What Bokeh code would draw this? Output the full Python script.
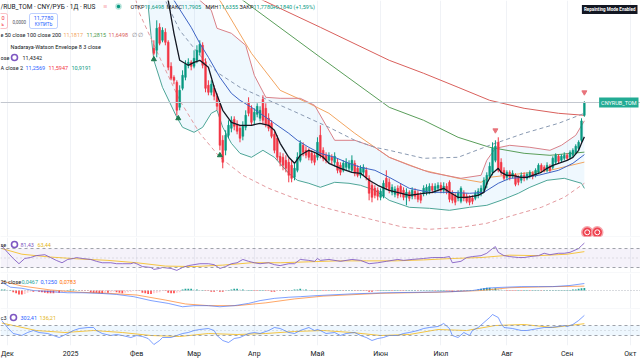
from bokeh.plotting import figure
from bokeh.models import Range1d, FixedTicker, Span, Label, BoxAnnotation
from bokeh.layouts import column
from bokeh.embed import file_html
from bokeh.resources import INLINE

# ---------------- data ----------------
month_idx = [0, 22, 45, 65, 86, 108, 130, 151, 174, 195, 217]
month_lbl = ["Дек", "2025", "Фев", "Мар", "Апр", "Май", "Июн", "Июл", "Авг", "Сен", "Окт"]

candle_idx = list(range(51, 202))
opens = [12.32, 12.30, 12.53, 12.40, 12.48, 12.38, 12.14, 12.03, 11.98, 11.73,
         11.92, 12.03, 12.15, 12.18, 12.14, 12.20, 12.28, 12.35, 12.18, 11.95,
         11.88, 11.92, 11.84, 11.76, 11.40, 11.30, 11.45, 11.52, 11.61, 11.56,
         11.52, 11.44, 11.53, 11.78, 11.72, 11.60, 11.66, 11.62, 11.81, 11.72,
         11.62, 11.57, 11.46, 11.42, 11.24, 11.23, 11.20, 11.18, 11.15, 11.03,
         11.10, 11.20, 11.35, 11.30, 11.30, 11.27, 11.25, 11.23, 11.45, 11.30,
         11.25, 11.20, 11.23, 11.18, 11.18, 11.15, 11.10, 11.13, 11.12, 11.10,
         11.17, 11.12, 11.05, 11.08, 11.10, 11.02, 10.95, 10.92, 10.90, 10.83,
         10.84, 11.02, 10.98, 10.88, 10.86, 10.92, 10.94, 10.90, 10.83, 10.88,
         10.84, 10.89, 10.87, 10.85, 10.87, 10.88, 10.89, 10.94, 10.90, 10.92,
         10.95, 10.90, 10.94, 10.98, 10.87, 10.84, 10.82, 10.79, 10.87, 10.84,
         10.83, 10.82, 10.82, 10.85, 10.87, 10.90, 10.96, 11.04, 11.08, 11.20,
         11.38, 11.18, 11.10, 11.03, 11.08, 11.04, 11.05, 11.03, 11.00, 11.05,
         11.02, 11.04, 11.07, 11.05, 11.08, 11.15, 11.13, 11.10, 11.14, 11.13,
         11.18, 11.24, 11.20, 11.22, 11.25, 11.23, 11.25, 11.28, 11.32, 11.40,
         11.6498]
closes = [12.27, 12.52, 12.37, 12.50, 12.38, 12.13, 12.02, 12.00, 11.70, 11.90,
          12.05, 12.16, 12.18, 12.14, 12.22, 12.30, 12.36, 12.15, 11.92, 11.88,
          11.96, 11.84, 11.74, 11.35, 11.18, 11.45, 11.55, 11.60, 11.54, 11.49,
          11.42, 11.55, 11.65, 11.67, 11.58, 11.68, 11.74, 11.70, 11.60, 11.56,
          11.52, 11.44, 11.30, 11.23, 11.18, 11.15, 11.12, 11.05, 11.02, 11.12,
          11.23, 11.37, 11.28, 11.25, 11.23, 11.20, 11.18, 11.38, 11.25, 11.22,
          11.20, 11.25, 11.20, 11.24, 11.10, 11.08, 11.17, 11.18, 11.17, 11.20,
          11.07, 11.05, 11.12, 11.13, 11.03, 10.87, 10.83, 10.85, 10.84, 10.89,
          10.97, 10.93, 10.90, 10.93, 10.91, 10.85, 10.87, 10.83, 10.88, 10.82,
          10.90, 10.84, 10.81, 10.80, 10.92, 10.93, 10.94, 10.90, 10.94, 10.95,
          10.90, 10.94, 10.89, 10.81, 10.80, 10.78, 10.87, 10.92, 10.82, 10.79,
          10.78, 10.79, 10.87, 10.89, 10.92, 11.00, 11.05, 11.14, 11.32, 11.34,
          11.10, 11.08, 11.02, 11.08, 11.03, 11.07, 10.96, 10.98, 11.05, 11.02,
          11.06, 11.08, 11.04, 11.10, 11.15, 11.10, 11.10, 11.15, 11.10, 11.22,
          11.25, 11.19, 11.24, 11.25, 11.22, 11.28, 11.30, 11.34, 11.38, 11.594,
          11.778]
highs = [12.40, 12.60, 12.57, 12.53, 12.52, 12.40, 12.18, 12.05, 12.00, 11.95,
         12.10, 12.20, 12.22, 12.20, 12.30, 12.35, 12.40, 12.38, 12.22, 12.00,
         12.00, 11.95, 11.87, 11.78, 11.45, 11.50, 11.60, 11.64, 11.64, 11.60,
         11.55, 11.59, 11.70, 11.83, 11.75, 11.72, 11.77, 11.74, 11.85, 11.77,
         11.67, 11.60, 11.49, 11.45, 11.28, 11.27, 11.25, 11.22, 11.20, 11.17,
         11.28, 11.40, 11.38, 11.34, 11.32, 11.30, 11.28, 11.43, 11.55, 11.33,
         11.28, 11.28, 11.26, 11.28, 11.22, 11.18, 11.20, 11.22, 11.20, 11.25,
         11.20, 11.15, 11.15, 11.16, 11.13, 11.05, 10.98, 10.95, 10.93, 10.92,
         11.00, 11.10, 11.02, 10.96, 10.94, 10.95, 10.97, 10.93, 10.92, 10.90,
         10.93, 10.92, 10.90, 10.88, 10.95, 10.96, 10.97, 10.97, 10.97, 10.98,
         10.98, 10.98, 10.97, 11.00, 10.90, 10.87, 10.90, 10.94, 10.90, 10.87,
         10.85, 10.85, 10.90, 10.92, 10.95, 11.03, 11.08, 11.18, 11.38, 11.40,
         11.43, 11.22, 11.13, 11.10, 11.10, 11.10, 11.07, 11.05, 11.08, 11.08,
         11.08, 11.10, 11.09, 11.12, 11.17, 11.17, 11.15, 11.18, 11.16, 11.24,
         11.27, 11.26, 11.26, 11.28, 11.27, 11.30, 11.32, 11.36, 11.40, 11.62,
         11.7905]
lows = [12.25, 12.23, 12.35, 12.38, 12.35, 12.10, 12.00, 11.96, 11.65, 11.70,
        11.90, 12.00, 12.12, 12.10, 12.12, 12.17, 12.25, 12.12, 11.88, 11.85,
        11.85, 11.80, 11.70, 11.30, 11.12, 11.25, 11.42, 11.48, 11.50, 11.46,
        11.38, 11.40, 11.50, 11.64, 11.55, 11.56, 11.63, 11.59, 11.56, 11.53,
        11.49, 11.42, 11.27, 11.20, 11.14, 11.10, 11.08, 10.98, 10.98, 11.00,
        11.08, 11.18, 11.24, 11.22, 11.20, 11.17, 11.15, 11.20, 11.22, 11.19,
        11.17, 11.17, 11.16, 11.14, 11.07, 11.05, 11.08, 11.10, 11.09, 11.08,
        11.04, 11.03, 11.02, 11.05, 11.00, 10.80, 10.78, 10.82, 10.80, 10.80,
        10.82, 10.90, 10.87, 10.85, 10.83, 10.82, 10.83, 10.80, 10.75, 10.79,
        10.81, 10.81, 10.78, 10.77, 10.84, 10.85, 10.86, 10.87, 10.87, 10.89,
        10.87, 10.87, 10.86, 10.78, 10.77, 10.75, 10.79, 10.77, 10.79, 10.77,
        10.75, 10.76, 10.80, 10.82, 10.84, 10.88, 10.92, 11.02, 11.05, 11.18,
        11.08, 11.05, 11.00, 11.00, 11.00, 11.02, 10.94, 10.95, 10.97, 10.99,
        11.00, 11.02, 11.01, 11.03, 11.06, 11.08, 11.08, 11.08, 11.08, 11.11,
        11.16, 11.17, 11.18, 11.20, 11.20, 11.21, 11.23, 11.26, 11.30, 11.38,
        11.6355]
last_close = 11.778

ma_idx = [53, 56, 58, 60, 63, 65, 67, 70, 72, 75, 78, 81, 85, 88, 91, 93, 95, 98, 100, 102,
          105, 107, 110, 112, 116, 120, 123, 126, 129, 133, 140, 145, 148, 152, 154, 157, 160, 164, 166, 167,
          169, 171, 172, 174, 176, 179, 181, 183, 186, 188, 190, 193, 195, 197, 199, 200, 201]
ma_val = [12.95, 12.80, 12.47, 12.20, 12.15, 12.18, 12.20, 12.13, 11.93, 11.70,
          11.58, 11.55, 11.55, 11.57, 11.55, 11.50, 11.37, 11.23, 11.17, 11.25,
          11.30, 11.28, 11.23, 11.17, 11.12, 11.08, 11.07, 11.00, 10.95, 10.90,
          10.85, 10.87, 10.88, 10.92, 10.88, 10.83, 10.83, 10.85, 10.88, 10.97,
          11.07, 11.12, 11.08, 11.05, 11.05, 11.03, 11.03, 11.05, 11.08, 11.12,
          11.15, 11.18, 11.20, 11.23, 11.30, 11.37, 11.4342]

bb_mid_idx = [55, 58, 64, 67, 70, 74, 78, 81, 85, 88, 93, 98, 101, 105, 109, 114, 119, 123, 128, 133,
              140, 147, 154, 161, 166, 171, 175, 180, 185, 192, 197, 201]
bb_mid = [12.95, 12.80, 12.53, 12.37, 12.23, 12.03, 11.87, 11.80, 11.73, 11.67,
          11.57, 11.47, 11.40, 11.33, 11.27, 11.23, 11.17, 11.13, 11.10, 11.03,
          10.92, 10.88, 10.88, 10.87, 10.88, 10.97, 11.02, 11.03, 11.05, 11.10,
          11.17, 11.2569]
bb_up_idx = [49, 57, 64, 67, 71, 73, 78, 83, 86, 90, 95, 102, 107, 111, 114, 121, 128, 133, 140, 147,
             158, 165, 167, 170, 175, 182, 189, 193, 198, 201]
bb_up = [13.50, 13.15, 12.95, 12.80, 12.70, 12.52, 12.47, 12.35, 12.05, 11.83,
         11.82, 11.82, 11.75, 11.55, 11.40, 11.40, 11.33, 11.23, 11.15, 11.08,
         11.02, 11.05, 11.20, 11.32, 11.35, 11.33, 11.30, 11.35, 11.45, 11.5947]
bb_lo_idx = [49, 50, 51, 54, 59, 61, 65, 68, 71, 73, 75, 78, 81, 85, 89, 93, 98, 101, 105, 109,
             114, 119, 123, 128, 133, 140, 147, 154, 161, 167, 172, 178, 182, 188, 194, 200, 201]
bb_lo = [12.75, 12.45, 12.20, 11.93, 11.63, 11.53, 11.48, 11.53, 11.67, 11.70,
         11.53, 11.37, 11.27, 11.23, 11.30, 11.23, 11.07, 11.00, 10.97, 10.93,
         10.98, 10.97, 10.95, 10.90, 10.80, 10.73, 10.72, 10.70, 10.73, 10.75,
         10.80, 10.87, 10.93, 11.00, 11.02, 10.97, 10.9191]

ema50_idx = [62, 74, 85, 95, 105, 112, 121, 128, 133, 145, 157, 165, 168, 180, 189, 201]
ema50 = [13.10, 12.80, 12.27, 11.90, 11.77, 11.67, 11.47, 11.33, 11.23, 11.10,
         11.02, 10.98, 11.03, 11.07, 11.10, 11.1817]
ema100_idx = [70, 82, 109, 133, 145, 157, 168, 180, 189, 201]
ema100 = [13.10, 12.80, 12.23, 11.73, 11.60, 11.43, 11.33, 11.27, 11.25, 11.2815]
ema200_idx = [75, 89, 109, 133, 145, 157, 168, 180, 192, 201]
ema200 = [13.00, 12.80, 12.53, 12.20, 12.07, 11.93, 11.80, 11.72, 11.67, 11.6498]

nw_up_idx = [51, 55, 60, 67, 73, 81, 91, 99, 112, 121, 128, 133, 145, 157, 168, 180, 192, 201]
nw_up = [13.04, 12.80, 12.50, 12.25, 12.08, 11.93, 11.80, 11.70, 11.53, 11.40,
         11.33, 11.30, 11.22, 11.23, 11.35, 11.47, 11.57, 11.67]
nw_lo_idx = [44, 46, 53, 60, 67, 74, 82, 91, 100, 110, 121, 128, 138, 147, 158, 167, 175, 186, 194, 201]
nw_lo = [12.88, 12.67, 12.23, 11.80, 11.47, 11.23, 11.05, 10.92, 10.82, 10.73,
         10.65, 10.60, 10.53, 10.51, 10.53, 10.57, 10.64, 10.73, 10.83, 10.97]

buy_idx = [51, 59.5, 74]
buy_px = [12.21, 11.62, 11.25]
sell_idx = [170, 201]
sell_px = [11.50, 11.88]
dot_idx = [202, 205.5]
dot_px = [10.48, 10.48]

rsi_idx = [-2, 0, 2, 4, 6, 8, 10, 13, 15, 17, 19, 21, 23, 24, 26, 29, 31, 33, 36, 38,
           40, 43, 44, 45, 47, 50, 51, 53, 54, 57, 59, 61, 63, 65, 67, 70, 72, 74, 76, 78,
           80, 82, 84, 86, 88, 91, 93, 95, 98, 100, 102, 105, 107, 108, 109, 112, 116, 120, 123, 126,
           129, 132, 136, 138, 141, 145, 148, 152, 154, 155, 158, 160, 162, 165, 167, 169, 170, 171, 173, 175,
           178, 180, 182, 185, 187, 189, 192, 194, 196, 199, 200, 201]
rsi = [76, 62, 49, 38, 49, 51, 55, 57, 51, 45, 40, 47, 49, 51, 49, 47, 43, 40, 40, 38,
       38, 38, 40, 38, 32, 30, 26, 28, 30, 28, 24, 30, 34, 36, 38, 38, 36, 28, 32, 38,
       40, 47, 43, 40, 38, 40, 36, 34, 38, 38, 47, 45, 43, 49, 45, 47, 43, 47, 45, 38,
       40, 43, 47, 45, 47, 49, 51, 51, 53, 40, 43, 51, 53, 55, 60, 70, 74, 62, 55, 53,
       51, 51, 53, 55, 60, 57, 60, 60, 62, 70, 76, 81.43]
rsima_idx = [-2, 5, 15, 25, 35, 45, 55, 65, 75, 85, 95, 105, 115, 125, 135, 145, 155, 165, 175, 185, 195, 201]
rsima = [70, 58, 52, 48, 45, 40, 33, 32, 35, 40, 40, 42, 44, 44, 44, 46, 49, 51, 56, 55, 58, 63.44]

macd_idx = [-2, 1, 5, 9, 15, 21, 26, 32, 38, 44, 50, 56, 61, 65, 70, 74, 79, 84, 88, 93,
            98, 102, 108, 120, 132, 145, 155, 162, 167, 169, 174, 179, 185, 190, 196, 201]
macd = [0.15, 0.06, 0.04, 0.0, -0.02, -0.04, -0.04, -0.05, -0.07, -0.11,
        -0.18, -0.23, -0.29, -0.27, -0.27, -0.29, -0.27, -0.23, -0.18, -0.14,
        -0.12, -0.11, -0.09, -0.06, -0.04, -0.03, -0.02, 0.0, 0.04, 0.05,
        0.06, 0.07, 0.07, 0.07, 0.09, 0.125]
signal_idx = [-2, 5, 15, 25, 35, 45, 55, 62, 70, 80, 90, 100, 110, 130, 150, 165, 175, 190, 201]
signal = [0.17, 0.08, 0.01, -0.03, -0.05, -0.08, -0.17, -0.24, -0.27, -0.27,
          -0.22, -0.15, -0.10, -0.05, -0.03, 0.0, 0.05, 0.07, 0.078]
hist_first_idx = -2
hist = [0.02, 0.02, 0.01, 0.01,
        -0.03, -0.05, -0.07, -0.07, -0.06, -0.04,
        -0.02, -0.02, -0.01, -0.02,
        -0.03, -0.04, -0.05, -0.05, -0.05, -0.04, -0.04, -0.03, -0.02,
        0.01, 0.02, 0.02, 0.01, 0.01,
        -0.01, -0.01, -0.01,
        -0.03, -0.04, -0.04, -0.05, -0.05, -0.04, -0.04, -0.03,
        -0.02, -0.03, -0.04, -0.05, -0.04, -0.03, -0.02,
        -0.01, -0.01, -0.01,
        -0.04, -0.05, -0.06, -0.06, -0.05, -0.04, -0.03,
        -0.01, -0.01,
        -0.04, -0.05, -0.05, -0.04, -0.03,
        0.02, 0.03, 0.03, 0.03, 0.02, 0.02, 0.01, 0.01,
        -0.01, -0.01, -0.02, -0.02, -0.01, -0.02, -0.02, -0.01,
        0.01, 0.02, 0.03, 0.03, 0.02, 0.02, 0.01, 0.01,
        0.01, -0.01, -0.01, 0.01, 0.01, -0.01, -0.01, -0.02, -0.02, -0.01, -0.01, 0.01, 0.01, -0.01, 0.01,
        0.02, 0.02, 0.03, 0.02, 0.02, 0.01, 0.01,
        -0.01, 0.01, 0.01, -0.01, -0.01, 0.01, -0.01, -0.01, 0.01, 0.01, -0.01, 0.01, 0.01, 0.01,
        -0.01, -0.01, 0.01, -0.01, -0.01, -0.02, -0.02, -0.01, -0.01, 0.01,
        0.01, 0.01, 0.01, -0.01, 0.01, 0.01, -0.01, -0.01, 0.01, 0.01, 0.01, 0.01, -0.01, 0.01, 0.01, 0.01, 0.01, 0.01, -0.01, 0.01,
        0.01, 0.01, -0.01, -0.01, -0.02, -0.01, -0.01, 0.01, -0.01, 0.01, 0.01, 0.01, 0.01, 0.02,
        0.03, 0.04, 0.05, 0.05, 0.04, 0.04, 0.03, 0.02,
        0.01, -0.01, -0.01, -0.01, -0.01, 0.01, -0.01, 0.01, 0.01, -0.01, 0.01, 0.01, 0.01, -0.01, 0.01, 0.01, 0.01, 0.01, 0.01, 0.01, 0.01, 0.01,
        0.01, 0.01, 0.02, 0.02, 0.03, 0.04, 0.0467]

cci_idx = [-2, 0, 2, 5, 7, 9, 11, 14, 16, 18, 21, 23, 25, 28, 30, 31, 33, 36, 38, 40,
           43, 45, 47, 49, 51, 53, 54, 57, 59, 61, 63, 65, 67, 70, 72, 73, 75, 77, 79, 81,
           84, 86, 88, 91, 93, 95, 98, 100, 102, 105, 107, 108, 109, 111, 114, 116, 118, 121, 123, 125,
           127, 129, 131, 133, 136, 138, 140, 143, 145, 147, 150, 152, 154, 155, 157, 159, 161, 162, 164, 166,
           168, 169, 171, 172, 173, 176, 179, 181, 185, 187, 189, 192, 194, 195, 197, 199, 201]
cci = [200, 60, -60, -100, -40, 0, -40, -60, -100, -140, -60, 0, 40, 60, 60, 0, -60, -100, -80, -100,
       -140, -100, -120, -160, -280, -200, -140, -140, -100, -60, -40, 0, 20, 40, 0, -100, -200, -240, -160, -140,
       -60, -40, -60, 0, 60, 40, -40, -60, 0, 60, 0, 20, 0, -60, -40, -100, -60, -40, -100, -140,
       -200, -160, -140, -100, -100, -60, -40, 0, 40, 60, 80, 140, 40, -100, -140, -40, -100, 0, 60, 160,
       260, 320, 260, 140, 60, 40, 0, 0, 40, 60, 60, 80, 100, 80, 120, 200, 302.41]
ccima_idx = [-2, 10, 20, 30, 40, 50, 60, 70, 80, 90, 100, 110, 120, 130, 140, 150, 160, 170, 180, 190, 201]
ccima = [150, 0, -40, 0, -40, -100, -120, -60, -80, -60, -20, 0, -40, -100, -80, 20, 0, 100, 120, 60, 136.21]

# ---------------- layout ----------------
FONT = "Roboto"
W = 640
PX = 2.87                # pixels per bar; bar idx 0 sits at x = 7 px
X0 = -7 / PX
X1 = X0 + W / PX
xr = Range1d(X0, X1)

MAIN_H, RSI_H, MACD_H, CCI_H, AX_H = 236, 35, 35, 36, 15
MAIN_TOP = last_close + 102 / 100.0
MAIN_BOT = MAIN_TOP - MAIN_H / 100.0
MR = (MAIN_BOT, MAIN_TOP)
RSI_R = (19.5, 93.2)
MACD_R = (-0.321, 0.304)
CCI_R = (-300, 420)

GRID = "#f0f2f6"
DARK = "#131722"


def pane(frame_h, yr, sep=True, axis=False):
    h = frame_h + (AX_H if axis else 0) + (1 if sep else 0)
    p = figure(width=W, height=h, x_range=xr, y_range=Range1d(*yr),
               output_backend="svg", toolbar_location=None,
               x_axis_location=("below" if axis else None), y_axis_location=None,
               min_border=0, title=None, outline_line_color=None,
               background_fill_color="white")
    p.min_border_bottom = AX_H if axis else 1
    p.border_fill_color = "#e0e3eb" if sep else "white"
    p.xgrid.ticker = FixedTicker(ticks=month_idx)
    p.xgrid.grid_line_color = GRID
    p.ygrid.grid_line_color = None
    return p


def ypos(yr, frame_h, fy):
    return yr[1] - (yr[1] - yr[0]) * fy / frame_h


def txt(p, frame_h, yr, fx, fy, s, color, size="5.5px", align="left", bold=False):
    p.add_layout(Label(x=X0 + fx / PX, y=ypos(yr, frame_h, fy), text=s, text_color=color,
                       text_font=FONT, text_font_size=size, text_align=align,
                       text_baseline="middle",
                       text_font_style=("bold" if bold else "normal")))


def ring(p, frame_h, yr, fx, fy, color="#7e57c2"):
    p.scatter([X0 + fx / PX], [ypos(yr, frame_h, fy)], marker="circle", size=6,
              fill_color="white", line_color=color, line_width=1.6)


# ---------------- main pane ----------------
pm = pane(MAIN_H, MR)

pm.patch(bb_up_idx + bb_lo_idx[::-1], bb_up + bb_lo[::-1],
         fill_color="#2196f3", fill_alpha=0.07, line_color=None)
pm.add_layout(Span(location=last_close, dimension="width", line_color="#c3c7cf", line_width=1))

pm.line(ema200_idx, ema200, line_color="#d9605c", line_width=1)
pm.line(ema100_idx, ema100, line_color="#5a9e5a", line_width=1)
pm.line(ema50_idx, ema50, line_color="#f2a560", line_width=1)
pm.line(bb_up_idx, bb_up, line_color="#d98088", line_width=1)
pm.line(bb_lo_idx, bb_lo, line_color="#4da597", line_width=1)
pm.line(nw_up_idx, nw_up, line_color="#8a9ab2", line_width=1, line_dash="4 3")
pm.line(nw_lo_idx, nw_lo, line_color="#e39a9f", line_width=1, line_dash="4 3")

up = [c >= o for o, c in zip(opens, closes)]
ccol = ["#089981" if u else "#f23645" for u in up]
pm.segment(candle_idx, lows, candle_idx, highs, color=ccol, line_width=1)
pm.vbar(x=candle_idx, width=0.62,
        top=[max(o, c) for o, c in zip(opens, closes)],
        bottom=[min(o, c) for o, c in zip(opens, closes)],
        fill_color=ccol, line_color=ccol, line_width=0.5)

pm.line(bb_mid_idx, bb_mid, line_color="#3d63c4", line_width=1)
pm.line(ma_idx, ma_val, line_color="#131722", line_width=1.3)

pm.scatter(buy_idx, buy_px, marker="triangle", size=5, fill_color="#1e7a4f", line_color="#1e7a4f")
pm.scatter(sell_idx, sell_px, marker="inverted_triangle", size=5, fill_color="#e8737b", line_color="#e8737b")
pm.scatter(dot_idx, dot_px, marker="circle", size=11, fill_color="#ef4350",
           line_color="#f6a7ad", line_width=1.5)
pm.scatter(dot_idx, dot_px, marker="circle", size=5, fill_color=None,
           line_color="white", line_width=1)


def T(fx, fy, s, c, **k):
    txt(pm, MAIN_H, MR, fx, fy, s, c, **k)


T(0, 6, "/RUB_TOM · CNY/РУБ · 1Д · RUS", DARK, size="6.5px")
T(103, 6, "≡", "#f23645", size="7px")
pm.scatter([X0 + 118 / PX], [ypos(MR, MAIN_H, 6)], marker="circle", size=5,
           fill_color="#089981", line_color="#b6e3da", line_width=1.5)
T(130, 6, "ОТКР", DARK)
T(144, 6, "11,6498", "#089981")
T(166, 6, "МАКС", DARK)
T(181, 6, "11,7905", "#089981")
T(205, 6, "МИН", DARK)
T(218, 6, "11,6355", "#089981")
T(239, 6, "ЗАКР", DARK)
T(253, 6, "11,7780", "#089981")
T(272, 6, "+0,1840 (+1,59%)", "#089981")

# sell / buy boxes
by0 = ypos(MR, MAIN_H, 13)
by1 = ypos(MR, MAIN_H, 28)
pm.add_layout(BoxAnnotation(left=X0 + 29 / PX, right=X0 + 57 / PX, top=by0, bottom=by1,
                            fill_color="white", fill_alpha=1, line_color="#2962ff", line_width=1,
                            border_radius=2))
pm.add_layout(BoxAnnotation(left=X0 - 12 / PX, right=X0 + 7 / PX, top=by0, bottom=by1,
                            fill_color="white", fill_alpha=1, line_color="#f23645", line_width=1,
                            border_radius=2))
T(43, 17.5, "11,7780", "#2962ff", size="5.5px", align="center")
T(43, 23.5, "КУПИТЬ", "#2962ff", size="4.5px", align="center")
T(1, 17.5, "0", "#f23645", size="5.5px")
T(1, 23.5, "ь", "#f23645", size="4.5px")
T(12, 21, "0,0000", "#50535e", size="4.5px")

T(0, 34, "e 50 close 100 close 200", DARK)
T(63, 34, "11,1817", "#f2a560")
T(86, 34, "11,2815", "#4c9a4c")
T(108, 34, "11,6498", "#d9605c")
T(131, 34, "∅ ∅", "#787b86")
T(10, 46, "Nadaraya-Watson Envelope 8 3 close", DARK)
T(0, 57, "ose", DARK)
ring(pm, MAIN_H, MR, 14, 57)
T(22, 57, "11,4342", DARK)
T(0, 67, "A close 2", DARK)
T(25, 67, "11,2569", "#2962ff")
T(48, 67, "11,5947", "#f23645")
T(71, 67, "10,9191", "#089981")

pm.add_layout(Label(x=X0 + 638 / PX, y=last_close, text="CNYRUB_TOM", text_color="white",
                    text_font=FONT, text_font_size="5.5px", text_baseline="middle", text_align="right",
                    background_fill_color="#22ab94", padding=2))
pm.add_layout(Label(x=X0 + 637 / PX, y=ypos(MR, MAIN_H, 9),
                    text="Repainting Mode Enabled", text_color="white", text_font=FONT,
                    text_font_size="4.5px", text_font_style="bold", text_baseline="middle",
                    text_align="right", background_fill_color="#131722", padding=2))

# ---------------- RSI pane ----------------
pr = pane(RSI_H, RSI_R)
pr.add_layout(BoxAnnotation(bottom=30, top=70, fill_color="#7e57c2", fill_alpha=0.08,
                            line_color=None, level="underlay"))
for lv, dash, a in [(70, "3 3", 0.9), (50, "1 3", 0.5), (30, "3 3", 0.9)]:
    pr.add_layout(Span(location=lv, dimension="width", line_color="#9598a1",
                       line_dash=dash, line_alpha=a, line_width=1))
pr.line(rsima_idx, rsima, line_color="#f5c542", line_width=1)
pr.line(rsi_idx, rsi, line_color="#7e57c2", line_width=1, line_alpha=0.85)
txt(pr, RSI_H, RSI_R, 0, 7, "se", DARK)
ring(pr, RSI_H, RSI_R, 14, 7)
txt(pr, RSI_H, RSI_R, 20, 7, "81,43", "#7e57c2")
txt(pr, RSI_H, RSI_R, 37, 7, "63,44", "#e3b51b")

# ---------------- MACD pane ----------------
pd_ = pane(MACD_H, MACD_R)
pd_.add_layout(Span(location=0, dimension="width", line_color="#b2b5be", line_dash="1 2", line_width=1))
h_idx = [hist_first_idx + i for i in range(len(hist))]
h_col = []
for i, v in enumerate(hist):
    prev = hist[i - 1] if i > 0 else v
    if v >= 0:
        h_col.append("#26a69a" if v >= prev else "#b2dfdb")
    else:
        h_col.append("#ff5252" if v <= prev else "#ffcdd2")
pd_.vbar(x=h_idx, width=0.62, top=hist, bottom=0, fill_color=h_col, line_color=None)
pd_.line(signal_idx, signal, line_color="#ff6d00", line_width=1, line_alpha=0.6)
pd_.line(macd_idx, macd, line_color="#2962ff", line_width=1, line_alpha=0.6)
txt(pd_, MACD_H, MACD_R, 0, 8, "26 close", DARK)
txt(pd_, MACD_H, MACD_R, 21, 8, "0,0467", "#26a69a")
txt(pd_, MACD_H, MACD_R, 40, 8, "0,1250", "#2962ff")
txt(pd_, MACD_H, MACD_R, 59, 8, "0,0783", "#ff6d00")

# ---------------- CCI pane ----------------
pc = pane(CCI_H, CCI_R, sep=False, axis=True)
pc.add_layout(BoxAnnotation(bottom=-100, top=100, fill_color="#2196f3", fill_alpha=0.08,
                            line_color=None, level="underlay"))
for lv, dash, a in [(100, "3 3", 0.9), (0, "1 3", 0.5), (-100, "3 3", 0.9)]:
    pc.add_layout(Span(location=lv, dimension="width", line_color="#9598a1",
                       line_dash=dash, line_alpha=a, line_width=1))
pc.line(ccima_idx, ccima, line_color="#f5c542", line_width=1)
pc.line(cci_idx, cci, line_color="#2962ff", line_width=1, line_alpha=0.6)
txt(pc, CCI_H, CCI_R, 0, 8, "c3", DARK)
ring(pc, CCI_H, CCI_R, 13, 8)
txt(pc, CCI_H, CCI_R, 20, 8, "302,41", "#2962ff")
txt(pc, CCI_H, CCI_R, 39, 8, "136,21", "#e3b51b")

ax = pc.xaxis[0]
ax.ticker = FixedTicker(ticks=month_idx)
ax.major_label_overrides = dict(zip(month_idx, month_lbl))
ax.axis_line_color = None
ax.major_tick_line_color = None
ax.minor_tick_line_color = None
ax.major_tick_out = 0
ax.major_tick_in = 0
ax.major_label_standoff = 4
ax.major_label_text_font = FONT
ax.major_label_text_font_size = "7px"
ax.major_label_text_color = "#131722"

layout = column(pm, pr, pd_, pc, spacing=0)
open("out.html", "w").write(file_html(layout, INLINE))
